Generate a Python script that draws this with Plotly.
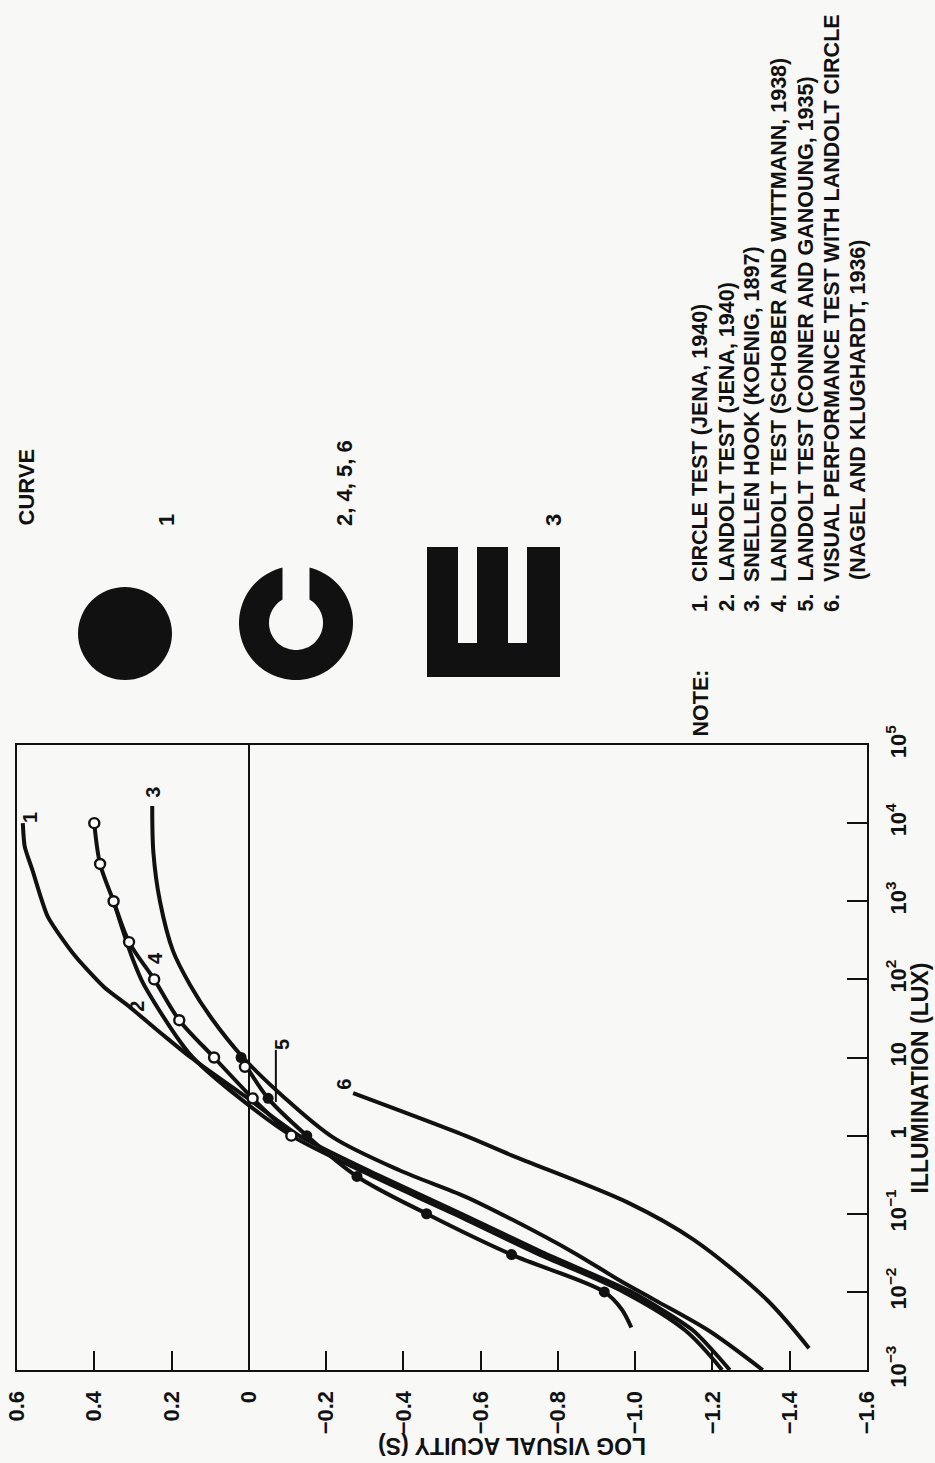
import math
import plotly.graph_objects as go

W, H = 935, 1463

# ---- data: illumination (lux) and log visual acuity for each curve ----
c1_lux = [10000, 5000, 2500, 630, 200, 80, 45, 20, 10, 3.2, 1, 0.32, 0.1, 0.032, 0.01, 0.0032, 0.001]
c1_va = [0.585, 0.58, 0.56, 0.52, 0.45, 0.375, 0.31, 0.225, 0.15, 0.01, -0.13, -0.33, -0.55, -0.76, -0.99, -1.15, -1.245]

c2_lux = [1000, 320, 180, 90, 45, 16, 10, 3.2, 1, 0.32, 0.1, 0.032, 0.01, 0.0032, 0.001]
c2_va = [0.35, 0.318, 0.30, 0.274, 0.238, 0.178, 0.145, 0.03, -0.11, -0.31, -0.53, -0.74, -0.97, -1.13, -1.225]

c3_lux = [16600, 4200, 1000, 230, 85, 32, 10, 3.2, 0.95, 0.36, 0.166, 0.083, 0.032, 0.014, 0.0079, 0.0032, 0.001]
c3_va = [0.25, 0.247, 0.23, 0.196, 0.152, 0.097, 0.015, -0.088, -0.218, -0.39, -0.56, -0.684, -0.84, -0.96, -1.05, -1.19, -1.33]

c4_lux = [10000, 3000, 1000, 300, 100, 30, 10, 3, 1]
c4_va = [0.40, 0.385, 0.35, 0.31, 0.245, 0.18, 0.09, -0.01, -0.11]

c5_lux = [10, 3, 1, 0.3, 0.1, 0.03, 0.01]
c5_va = [0.02, -0.05, -0.15, -0.28, -0.46, -0.68, -0.92]
c5_line_lux = [10, 3, 1, 0.3, 0.1, 0.03, 0.01, 0.006, 0.0035]
c5_line_va = [0.02, -0.05, -0.15, -0.28, -0.46, -0.68, -0.92, -0.965, -0.99]
extra_open_lux = [7.6]
extra_open_va = [0.01]

c6_lux = [3.5, 1.0, 0.56, 0.14, 0.047, 0.008, 0.0019]
c6_va = [-0.27, -0.56, -0.68, -0.98, -1.15, -1.34, -1.45]

# curve number labels inside the plot: (text, log VA, lux)
curve_labels = [("1", 0.566, 11700), ("3", 0.248, 24500), ("4", 0.243, 188),
                ("2", 0.289, 45), ("5", -0.086, 14.5), ("6", -0.244, 4.5)]
leader5_va = [-0.07, -0.07]
leader5_lux = [12.5, 2.7]

va_ticks = [0.6, 0.4, 0.2, 0, -0.2, -0.4, -0.6, -0.8, -1.0, -1.2, -1.4, -1.6]
va_text = ["0.6", "0.4", "0.2", "0", "\u22120.2", "\u22120.4", "\u22120.6", "\u22120.8",
           "\u22121.0", "\u22121.2", "\u22121.4", "\u22121.6"]
lux_ticks = [1e-3, 1e-2, 1e-1, 1, 10, 1e2, 1e3, 1e4, 1e5]
lux_text = ["10<sup>\u22123</sup>", "10<sup>\u22122</sup>", "10<sup>\u22121</sup>", "1", "10",
            "10<sup>2</sup>", "10<sup>3</sup>", "10<sup>4</sup>", "10<sup>5</sup>"]

key_labels = ["CURVE", "1", "2, 4, 5, 6", "3"]
notes = ["1.  CIRCLE TEST (JENA, 1940)",
         "2.  LANDOLT TEST (JENA, 1940)",
         "3.  SNELLEN HOOK (KOENIG, 1897)",
         "4.  LANDOLT TEST (SCHOBER AND WITTMANN, 1938)",
         "5.  LANDOLT TEST (CONNER AND GANOUNG, 1935)",
         "6.  VISUAL PERFORMANCE TEST WITH LANDOLT CIRCLE",
         "(NAGEL AND KLUGHARDT, 1936)"]

INK = "#111111"
BG = "#f8f8f7"
FONT = "Liberation Sans, Arial, sans-serif"

# plot frame in page pixels
FX0, FX1, FY0, FY1 = 17, 867, 745, 1370

fig = go.Figure()


def curve_line(smooth=0.9):
    return dict(color=INK, width=4.0, shape="spline", smoothing=smooth)


for lux, va, sm in [(c1_lux, c1_va, 0.6), (c2_lux, c2_va, 0.9), (c3_lux, c3_va, 0.9),
                    (c6_lux, c6_va, 0.9), (c5_line_lux, c5_line_va, 0.9),
                    (c4_lux, c4_va, 0.9)]:
    fig.add_trace(go.Scatter(x=va, y=lux, mode="lines", line=curve_line(sm),
                             hoverinfo="skip", showlegend=False))

fig.add_trace(go.Scatter(x=leader5_va, y=leader5_lux, mode="lines",
                         line=dict(color=INK, width=2), showlegend=False))

fig.add_trace(go.Scatter(x=c5_va, y=c5_lux, mode="markers",
                         marker=dict(symbol="circle", size=11, color=INK),
                         showlegend=False))
open_marker = dict(symbol="circle", size=10, color="white", line=dict(color=INK, width=2.4))
fig.add_trace(go.Scatter(x=c4_va + extra_open_va, y=c4_lux + extra_open_lux,
                         mode="markers", marker=open_marker, showlegend=False))

# page-wide overlay axes in pixel units, used to place the key and notes
fig.add_trace(go.Scatter(x=[None], y=[None], xaxis="x2", yaxis="y2",
                         mode="markers", hoverinfo="skip", showlegend=False))

axis_font = dict(family=FONT, size=22, color=INK, weight="bold")

fig.update_layout(
    width=W, height=H,
    margin=dict(l=0, r=0, t=0, b=0),
    paper_bgcolor=BG, plot_bgcolor="rgba(0,0,0,0)",
    xaxis=dict(domain=[FX0 / W, FX1 / W], range=[0.6, -1.6], automargin=False,
               anchor="y",
               tickvals=va_ticks, ticktext=va_text, tickangle=-90,
               ticks="inside", ticklen=19, tickwidth=2, tickcolor=INK,
               tickfont=axis_font, ticklabelstandoff=10,
               showline=True, linewidth=2.2, linecolor=INK, mirror=True,
               showgrid=False, zeroline=True, zerolinecolor=INK, zerolinewidth=1.6),
    yaxis=dict(type="log", domain=[1 - FY1 / H, 1 - FY0 / H], range=[-3, 5], side="right",
               automargin=False, anchor="x",
               tickvals=lux_ticks, ticktext=lux_text, tickangle=-90,
               ticks="inside", ticklen=20, tickwidth=2, tickcolor=INK,
               tickfont=axis_font, ticklabelstandoff=10,
               showline=True, linewidth=2.2, linecolor=INK, mirror=True,
               showgrid=False, zeroline=False),
    xaxis2=dict(domain=[0, 1], range=[0, W], anchor="y2", visible=False,
                fixedrange=True, showgrid=False, zeroline=False),
    yaxis2=dict(domain=[0, 1], range=[H, 0], anchor="x2", visible=False,
                fixedrange=True, showgrid=False, zeroline=False),
)

ann = []
label_font = dict(family=FONT, size=20, color=INK, weight="bold")
for text, va, lux in curve_labels:
    ann.append(dict(x=va, y=math.log10(lux), xref="x", yref="y", text=text,
                    showarrow=False, textangle=-90, font=label_font,
                    xanchor="center", yanchor="middle"))


def page_text(text, x, y, angle, font, yanchor="middle"):
    return dict(x=x, y=y, xref="x2", yref="y2", text=text,
                showarrow=False, textangle=angle, font=font, borderpad=0,
                xanchor="center", yanchor=yanchor)


title_font = dict(family=FONT, size=23, color=INK, weight="bold")
ann.append(page_text("LOG VISUAL ACUITY (S)", 512, 1446, 180, title_font))
ann.append(page_text("ILLUMINATION (LUX)", 919.5, 1078, -90, title_font))

key_font = dict(family=FONT, size=22, color=INK, weight="bold")
for text, xc in zip(key_labels, [26, 166, 344, 553]):
    ann.append(page_text(text, xc, 527, -90, key_font, yanchor="bottom"))

note_font = dict(family=FONT, size=21.5, color=INK, weight="bold")
ann.append(page_text("NOTE:", 700, 738, -90, note_font, yanchor="bottom"))
note_x = [700, 726, 752, 779, 805, 832, 858]
for i, (text, xc) in enumerate(zip(notes, note_x)):
    ybot = 613 if i < 6 else 581
    ann.append(page_text(text, xc, ybot, -90, note_font, yanchor="bottom"))

fig.update_layout(annotations=ann)

# test objects: solid disc, Landolt ring (gap upward) and Snellen E


def poly_path(points):
    return "M " + " L ".join(f"{x:.2f},{y:.2f}" for x, y in points) + " Z"


shapes = []
shapes.append(dict(type="circle", xref="x2", yref="y2",
                   x0=78, x1=172, y0=587, y1=680,
                   fillcolor=INK, line=dict(width=0)))

cx, cy, R, r, g = 296, 623, 57, 27, 13.5
a_out = math.asin(g / R)
a_in = math.asin(g / r)
pts = []
n = 90
for k in range(n + 1):
    a = a_out + (2 * math.pi - 2 * a_out) * k / n
    pts.append((cx + R * math.sin(a), cy - R * math.cos(a)))
for k in range(n + 1):
    a = (2 * math.pi - a_in) - (2 * math.pi - 2 * a_in) * k / n
    pts.append((cx + r * math.sin(a), cy - r * math.cos(a)))
shapes.append(dict(type="path", xref="x2", yref="y2", path=poly_path(pts),
                   fillcolor=INK, line=dict(width=0)))

e_pts = [(427, 547), (458, 547), (458, 643), (477, 643), (477, 547), (508, 547),
         (508, 643), (527, 643), (527, 547), (560, 547), (560, 677), (427, 677)]
shapes.append(dict(type="path", xref="x2", yref="y2", path=poly_path(e_pts),
                   fillcolor=INK, line=dict(width=0)))

fig.update_layout(shapes=shapes)

fig.write_html("out.html")
